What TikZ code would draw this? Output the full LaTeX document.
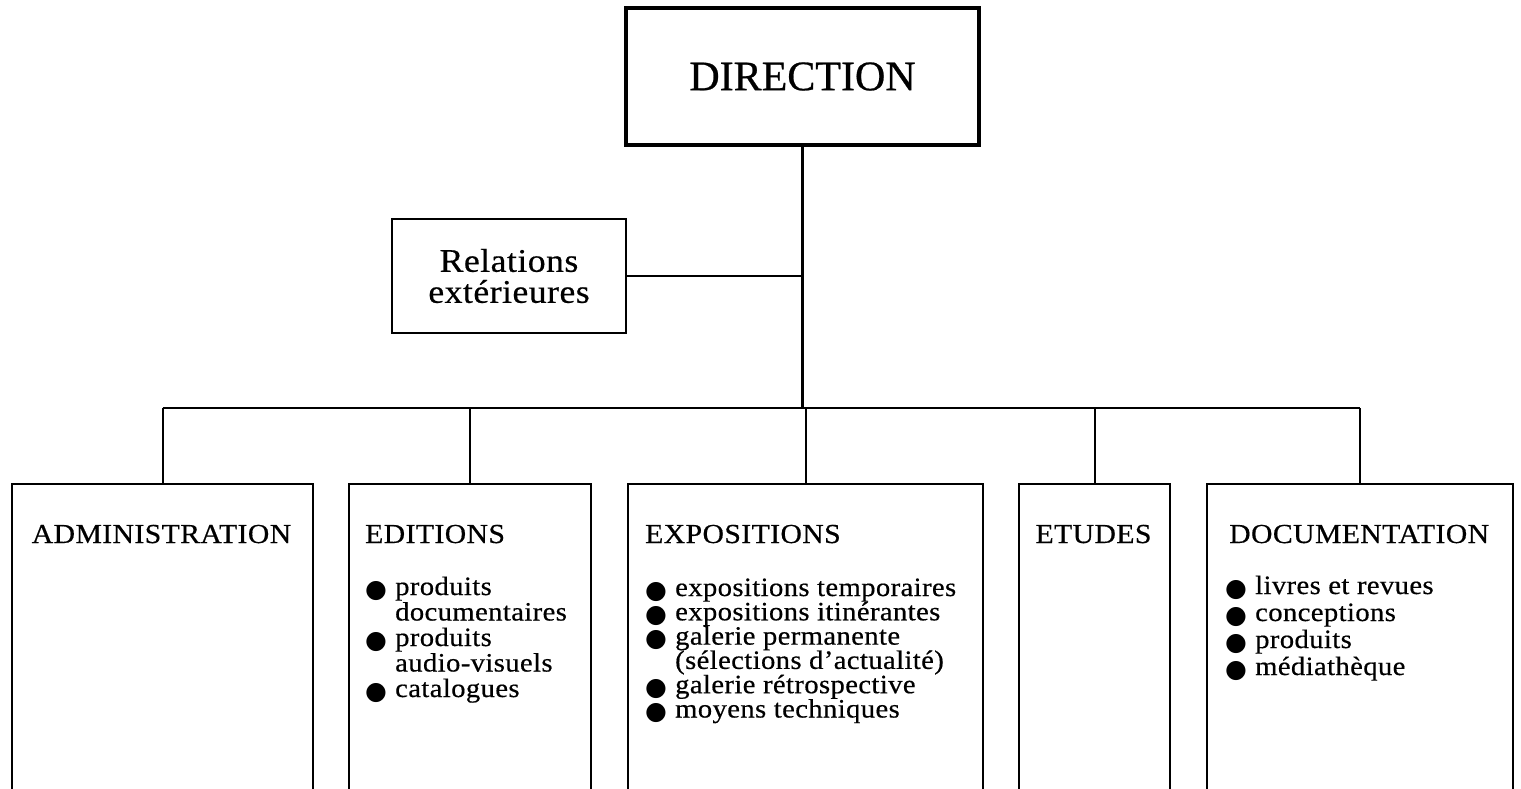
\documentclass[tikz,border=0pt]{standalone}
\usepackage{fontspec}
\setmainfont{Liberation Serif}[FakeStretch=1.08,LetterSpace=1.5,FakeBold=0.5]
\newfontfamily\titlefont{Liberation Serif}[FakeBold=0.6]
\newfontfamily\dotfont{DejaVu Sans}
% bulleted line and its continuation, both with the same hanging indent
\newcommand{\bitem}[1]{\makebox[30pt][l]{\raisebox{-2pt}{\dotfont\fontsize{25}{24}\selectfont ●}}#1}
\newcommand{\bcont}[1]{\hspace*{30pt}#1}
% fixed line pitch inside a list
\newcommand{\itemlist}[3]{\parbox[t]{#1}{\baselineskip=#2\relax\lineskiplimit=-100pt\relax\lineskip=0pt\relax #3}}

\tikzset{
  frame/.style={draw, rectangle, line width=2.3pt, inner sep=0pt},
  headbox/.style={draw, rectangle, line width=3.2pt, inner sep=0pt},
  wire/.style={line width=2.1pt},
  head/.style={inner sep=0pt, font=\fontsize{27.5}{24}\selectfont},
  list/.style={anchor=base west, inner sep=0pt, font=\fontsize{26.5}{24}\selectfont}
}

\begin{document}
\begin{tikzpicture}[x=1pt,y=-1pt]
  \clip (0,0) rectangle (1521,788);
  \fill[white] (0,0) rectangle (1521,788);

  % top level
  \node[headbox, minimum width=353pt, minimum height=137pt] (dir) at (802.5,76.5)
    {\titlefont\fontsize{42}{42}\selectfont DIRECTION};

  \node[frame, minimum width=234pt, minimum height=114pt, align=center,
        font=\fontsize{33}{31}\selectfont] (rel) at (509,276)
    {Relations\\extérieures};

  % departments (open at the bottom edge)
  \node[frame, minimum width=301pt, minimum height=330pt, anchor=north west] (admin) at (11,483) {};
  \node[frame, minimum width=242pt, minimum height=330pt, anchor=north west] (edit) at (348,483) {};
  \node[frame, minimum width=355pt, minimum height=330pt, anchor=north west] (expo) at (627,483) {};
  \node[frame, minimum width=151pt, minimum height=330pt, anchor=north west] (etud) at (1018,483) {};
  \node[frame, minimum width=306pt, minimum height=330pt, anchor=north west] (docu) at (1206,483) {};

  % department titles
  \node[head, anchor=base] (adminh) at (161.5,543) {ADMINISTRATION};
  \node[head, anchor=base west] (edith) at (365,543) {EDITIONS};
  \node[head, anchor=base west] (expoh) at (645,543) {EXPOSITIONS};
  \node[head, anchor=base] (etudh) at (1093.5,543) {ETUDES};
  \node[head, anchor=base west] (docuh) at (1229,543) {DOCUMENTATION};

  % department contents
  \node[list] (editl) at (365,595) {\itemlist{235pt}{25.5pt}{%
    \bitem{produits}\\
    \bcont{documentaires}\\
    \bitem{produits}\\
    \bcont{audio-visuels}\\
    \bitem{catalogues}}};
  \node[list] (expol) at (645,596) {\itemlist{335pt}{24.3pt}{%
    \bitem{expositions temporaires}\\
    \bitem{expositions itinérantes}\\
    \bitem{galerie permanente}\\
    \bcont{(sélections d’actualité)}\\
    \bitem{galerie rétrospective}\\
    \bitem{moyens techniques}}};
  \node[list] (docul) at (1225,594) {\itemlist{285pt}{27pt}{%
    \bitem{livres et revues}\\
    \bitem{conceptions}\\
    \bitem{produits}\\
    \bitem{médiathèque}}};

  % connectors
  \coordinate (hub) at (802.5,408);
  \draw[wire] (dir.south) -- (hub);
  \draw[wire] (rel.east) -- (rel.east -| dir.south);
  \draw[wire] (admin.north |- hub) -- (docu.north |- hub);
  \foreach \b in {admin,edit,expo,etud,docu}
    \draw[wire] (\b.north) -- (\b.north |- hub);
\end{tikzpicture}
\end{document}
